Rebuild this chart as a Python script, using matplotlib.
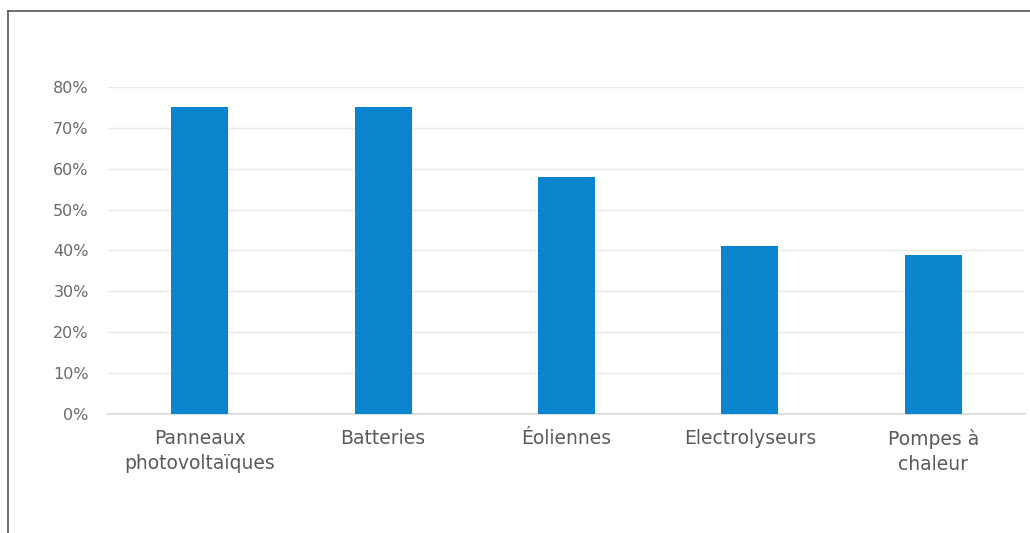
import matplotlib
matplotlib.use('Agg')
import matplotlib.pyplot as plt
from matplotlib.lines import Line2D
from matplotlib.ticker import FuncFormatter

categories = ['Panneaux\nphotovoltaïques', 'Batteries', 'Éoliennes', 'Electrolyseurs', 'Pompes à\nchaleur']
values = [75, 75, 58, 41, 39]
yticks = [0, 10, 20, 30, 40, 50, 60, 70, 80]

plt.rcParams['font.family'] = ['DejaVu Sans']

fig = plt.figure(figsize=(10.3, 5.33), dpi=100)
ax = fig.add_axes([0.105, 0.2233, 0.89, 0.6135])

x = range(len(categories))
ax.bar(x, values, width=0.31, color='#0a84cc', zorder=3)

ax.set_xlim(-0.5, len(categories) - 0.5)
ax.set_ylim(0, 80)
ax.set_yticks(yticks)
ax.yaxis.set_major_formatter(FuncFormatter(lambda v, p: '%d%%' % v))
ax.set_xticks(list(x))
ax.set_xticklabels(categories, fontsize=13.5, color='#5a5a5a', linespacing=1.4)
ax.tick_params(axis='y', length=0, pad=14, labelsize=11.5, labelcolor='#6a6a6a')
ax.tick_params(axis='x', length=0, pad=11)

ax.grid(axis='y', color='#e8e8e8', linewidth=1, zorder=0)
for s in ['top', 'right', 'left']:
    ax.spines[s].set_visible(False)
ax.spines['bottom'].set_color('#d9d9d9')
ax.spines['bottom'].set_linewidth(1.2)

# frame around the figure (left and top edges visible)
fig.add_artist(Line2D([8 / 1030, 8 / 1030], [0, 1 - 11 / 533], color='#555555', linewidth=1.2))
fig.add_artist(Line2D([8 / 1030, 1], [1 - 11 / 533, 1 - 11 / 533], color='#555555', linewidth=1.2))

fig.savefig('out.png', dpi=100)
